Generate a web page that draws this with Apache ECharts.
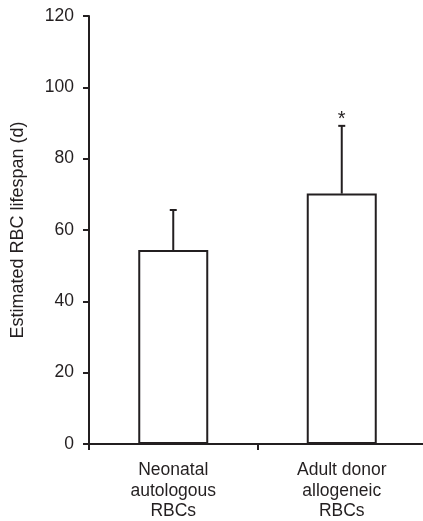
<!DOCTYPE html>
<html>
<head>
<meta charset="utf-8">
<script src="https://cdn.jsdelivr.net/npm/echarts@6/dist/echarts.min.js"></script>
<style>html,body{margin:0;padding:0;background:#fff;}#c{width:423px;height:521px;}</style>
</head>
<body>
<div id="c"></div>
<script>
const categories = ['Neonatal\nautologous\nRBCs', 'Adult donor\nallogeneic\nRBCs'];
const means = [54.4, 70.2];
const errors = [11.2, 19.0];
const significance = ['', '*'];
const yTicks = { min: 0, max: 120, interval: 20 };

const ink = '#231f20';
const font = 'Liberation Sans, Arial, sans-serif';
const chart = echarts.init(document.getElementById('c'));
chart.setOption({
  animation: false,
  backgroundColor: '#fff',
  textStyle: { fontFamily: font },
  grid: { left: 89, right: -3, top: 16, bottom: 77, containLabel: false, outerBoundsMode: 'none' },
  xAxis: {
    type: 'category',
    data: categories,
    axisLine: { lineStyle: { color: ink, width: 2 } },
    axisTick: { show: true, length: 6, lineStyle: { color: ink, width: 2 } },
    axisLabel: { color: ink, fontSize: 17.5, lineHeight: 20.5, margin: 16, fontFamily: font }
  },
  yAxis: {
    type: 'value',
    min: yTicks.min, max: yTicks.max, interval: yTicks.interval,
    name: 'Estimated RBC lifespan (d)',
    nameLocation: 'middle',
    nameGap: 62,
    nameTextStyle: { color: ink, fontSize: 18, fontFamily: font },
    splitLine: { show: false },
    axisLine: { show: true, lineStyle: { color: ink, width: 2 } },
    axisTick: { show: true, length: 6, lineStyle: { color: ink, width: 2 } },
    axisLabel: { color: ink, fontSize: 17.5, margin: 15, fontFamily: font }
  },
  series: [
    {
      type: 'bar',
      data: means,
      barWidth: 70,
      itemStyle: { color: '#fff', borderColor: ink, borderWidth: 2 },
      z: 2
    },
    {
      type: 'custom',
      z: 1,
      data: means.map((m, i) => [i, m, m + errors[i]]),
      renderItem: function (params, api) {
        const x = api.value(0);
        const base = api.coord([x, api.value(1)]);
        const top = api.coord([x, api.value(2)]);
        const children = [
          { type: 'line', shape: { x1: base[0], y1: base[1], x2: top[0], y2: top[1] }, style: { stroke: ink, lineWidth: 2 } },
          { type: 'line', shape: { x1: top[0] - 3.5, y1: top[1], x2: top[0] + 3.5, y2: top[1] }, style: { stroke: ink, lineWidth: 2 } }
        ];
        const sig = significance[params.dataIndex];
        if (sig) {
          children.push({ type: 'text', x: top[0], y: top[1] + 4, style: { text: sig, fill: ink, fontSize: 20, align: 'center', verticalAlign: 'bottom', fontFamily: font } });
        }
        return { type: 'group', children: children };
      }
    }
  ]
});
</script>
</body>
</html>
